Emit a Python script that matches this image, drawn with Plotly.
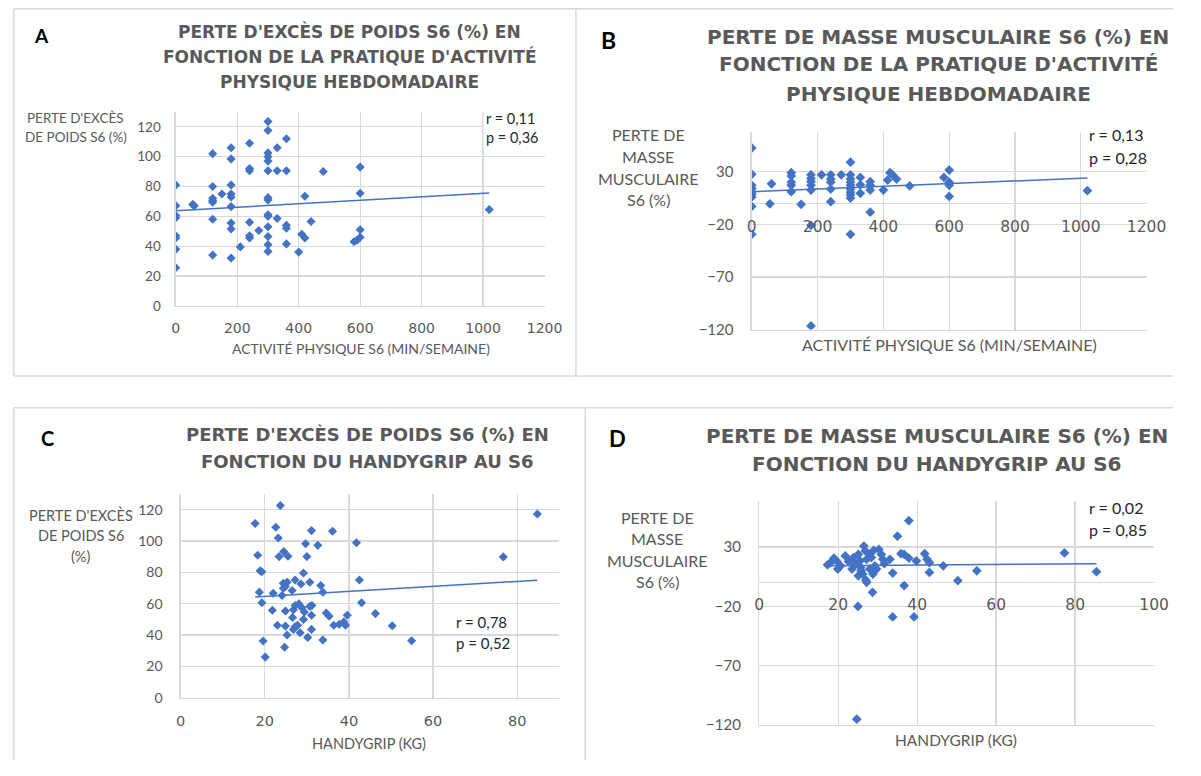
import plotly.graph_objects as go

W, H = 1201, 776          # browser window
PAD = 8                   # default body margin of the page
FW, FH = W - 2 * PAD, H - 2 * PAD   # figure size so that the page is exactly W x H

# ---------------- DATA ----------------
# Panel A : perte d'excès de poids vs activité physique
a_x = [0, 0, 0, 0, 0, 0, 0, 0,
       55, 60,
       120, 120, 120, 120, 120, 120, 120,
       150,
       180, 180, 180, 180, 180, 180, 180, 180, 180,
       210,
       240, 240, 240, 240, 240, 240,
       270,
       300, 300, 300, 300, 300, 300, 300, 300, 300, 300, 300, 300, 300, 300,
       330, 330, 330,
       360, 360, 360, 360, 360,
       400, 410, 420, 420, 440, 480, 580, 590,
       600, 600, 600, 600,
       1020]
a_y = [81, 67, 60.5, 59, 47, 45.5, 38, 25.5,
       68, 67,
       102, 80, 72, 70.5, 69.5, 58, 34,
       75,
       106, 98.5, 81, 75, 73, 66.5, 55.5, 51.5, 32,
       39.5,
       109, 92, 90.5, 56, 47, 45.5,
       50.5,
       123.5, 117.5, 102.5, 100, 97, 90.5, 72.5, 71, 61, 60, 53, 46.5, 41, 36.5,
       106, 90.5, 58.5,
       112, 90.5, 54, 52, 41.5,
       36, 48, 73.5, 45.5, 56.5, 90, 43, 44,
       93, 75.5, 51, 46,
       64.5]
a_trend_x = [0, 1020]
a_trend_y = [63.8, 75.6]

# Panel B : perte de masse musculaire vs activité physique
b_x = [0, 0, 0, 0, 0, 0, 0, 0, 0,
       55, 60,
       120, 120, 120, 120, 120,
       150,
       180, 180, 180, 180, 180, 180, 180,
       212,
       240, 240, 240, 240, 240,
       272,
       300, 300, 300, 300, 300, 300, 300, 300, 300, 300,
       330, 330, 330,
       360, 360, 360, 360,
       400, 413, 420, 428, 440, 480, 584,
       600, 600, 600, 600,
       1020]
b_y = [52.5, 27.5, 17, 14, 11, 8.5, 6, -3, -29.5,
       -0.5, 18.5,
       29, 26, 20, 17, 11,
       -1,
       27, 23.5, 20.5, 17, 12.5, -21, -116.5,
       27,
       27, 23, 20, 13.5, 1.5,
       27,
       39, 27, 23, 20, 17, 13.5, 10.5, 8, 5, -29.5,
       24.5, 17.5, 9.5,
       20.5, 17, 12.5, -8.5,
       12.5, 22, 29, 27, 23, 16.5, 24.5,
       31.5, 20, 17, 6.5,
       12]
b_trend_x = [0, 1020]
b_trend_y = [11, 24]

# Panel C : perte d'excès de poids vs handgrip
c_x = [23.7, 17.7, 22.6, 23.2, 31.1, 36.1, 29.7, 32.6, 41.8, 18.3,
       23.4, 24.5, 25.5, 30.0, 18.9, 19.3, 29.2, 27.2, 30.7, 28.6,
       24.4, 25.3, 24.9, 24.4, 26.5, 33.3, 33.8, 42.5, 18.7, 22.0,
       24.1, 19.3, 43.0, 21.8, 24.9, 27.2, 28.1, 28.8, 30.7, 31.2,
       26.8, 29.4, 26.6, 31.1, 34.6, 35.3, 39.6, 23.0, 24.9, 27.2,
       27.8, 29.2, 36.4, 37.7, 38.8, 39.2, 25.3, 26.8, 28.4, 31.1,
       30.2, 33.8, 19.6, 24.7, 20.1, 46.3, 50.3, 54.9, 76.7, 84.8]
c_y = [122.7, 111.2, 108.8, 102.0, 106.7, 106.3, 98.3, 97.3, 98.9, 91.0,
       90.1, 93.3, 90.3, 90.1, 81.0, 80.4, 79.6, 75.2, 73.7, 72.6,
       73.0, 73.7, 71.0, 69.9, 68.4, 71.6, 67.4, 75.2, 67.4, 66.7,
       65.3, 60.6, 60.6, 55.8, 55.4, 58.9, 60.0, 57.5, 58.3, 58.9,
       56.2, 54.7, 51.2, 52.6, 54.1, 52.0, 52.6, 46.3, 45.7, 45.3,
       46.3, 49.9, 46.3, 46.9, 48.4, 46.3, 40.0, 43.6, 41.5, 43.6,
       38.5, 36.8, 36.2, 32.2, 25.9, 53.7, 45.9, 36.4, 89.9, 117.3]
c_trend_x = [17.7, 84.8]
c_trend_y = [64.3, 75.0]

# Panel D : perte de masse musculaire vs handgrip
d_x = [37.9, 35.0, 35.9, 36.7, 37.9, 39.8, 41.9, 42.5, 43.1, 46.6,
       43.1, 33.8, 33.1, 36.7, 50.3, 55.1, 25.0, 33.8, 39.2, 24.7,
       27.2, 28.7,
       17.3, 18.1, 18.9, 19.6, 19.9, 20.6, 21.8, 22.6, 23.5, 23.9,
       24.3, 25.1, 25.5, 25.7, 26.2, 26.5, 26.9, 27.2, 25.8, 27.9,
       28.4, 29.0, 29.3, 29.7, 28.8, 30.3, 30.9, 31.3, 31.7, 28.0,
       27.0, 25.1,
       77.3, 85.4]
d_y = [52.2, 39.2, 24.4, 23.9, 20.6, 18.3, 24.4, 19.7, 16.9, 14.2,
       8.6, 8.1, 19.7, -2.5, 1.7, 10.0, -20.0, -28.9, -28.9, -115.0,
       0.3, -8.1,
       15.0, 16.9, 20.6, 18.3, 11.4, 14.2, 22.5, 17.8, 11.4, 21.1,
       15.6, 23.9, 18.3, 12.8, 7.2, 30.8, 26.7, 19.7, 10.0, 23.9,
       21.1, 27.2, 14.2, 11.4, 7.2, 28.0, 23.9, 19.7, 16.1, 11.4,
       2.2, 5.8,
       25.0, 9.2]
d_trend_x = [17.3, 85.4]
d_trend_y = [14.3, 15.9]

# ---------------- STYLE ----------------
BLUE = "#4472C4"
GRID = "#d9d9d9"
TICK = "#595959"
TITLE = "#595959"


def px(x):
    """window pixel -> paper x"""
    return min(max((x - PAD) / FW, 0.0), 1.0)


def py(y):
    """window pixel -> paper y"""
    return min(max(1 - (y - PAD) / FH, 0.0), 1.0)


panels = [
    dict(xs=a_x, ys=a_y, tx=a_trend_x, ty=a_trend_y,
         box=(174.3, 551.0, 113.0, 309.0), xr=[0, 1200], xdt=200,
         yr=[0, 130], y0=0, ydt=20, cross=False,
         xfont=14, yfont=13.5, xstand=9, ystand=11, msize=7),
    dict(xs=b_x, ys=b_y, tx=b_trend_x, ty=b_trend_y,
         box=(762.7, 1166.0, 133.0, 333.0), xr=[0, 1200], xdt=200,
         yr=[-120, 68], y0=-120, ydt=50, cross=True,
         xfont=15.5, yfont=15, xstand=12, ystand=14, msize=7.5),
    dict(xs=c_x, ys=c_y, tx=c_trend_x, ty=c_trend_y,
         box=(179.3, 566.0, 499.3, 705.0), xr=[0, 90], xdt=20,
         yr=[0, 130], y0=0, ydt=20, cross=False,
         xfont=14.5, yfont=14, xstand=10, ystand=14, msize=7),
    dict(xs=d_x, ys=d_y, tx=d_trend_x, ty=d_trend_y,
         box=(770.3, 1173.7, 506.0, 732.7), xr=[0, 100], xdt=20,
         yr=[-120, 69], y0=-120, ydt=50, cross=True,
         xfont=15.5, yfont=15, xstand=11, ystand=14, msize=7.5),
]

fig = go.Figure()
layout = {}
extra = 5

for i, p in enumerate(panels, start=1):
    sfx = "" if i == 1 else str(i)
    xa, ya = "x" + sfx, "y" + sfx
    x0, x1, yt, yb = p["box"]

    fig.add_trace(go.Scatter(
        x=p["xs"], y=p["ys"], mode="markers", xaxis=xa, yaxis=ya,
        marker=dict(symbol="diamond", size=p["msize"], color=BLUE,
                    line=dict(width=0)),
        hoverinfo="skip"))
    fig.add_trace(go.Scatter(
        x=p["tx"], y=p["ty"], mode="lines", xaxis=xa, yaxis=ya,
        line=dict(color=BLUE, width=1.5), hoverinfo="skip"))

    tickfont_x = dict(family="DejaVu Sans", size=p["xfont"], color=TICK)
    xaxis = dict(
        domain=[px(x0), px(x1)], range=p["xr"], tick0=0, dtick=p["xdt"],
        showgrid=True, gridcolor=GRID, gridwidth=1.3, zeroline=False,
        showline=True, linecolor=GRID, linewidth=1.3, ticks="",
        tickfont=tickfont_x, ticklabelstandoff=p["xstand"],
        anchor=ya, fixedrange=True)
    yaxis = dict(
        domain=[py(yb), py(yt)], range=p["yr"], tick0=p["y0"], dtick=p["ydt"],
        showgrid=True, gridcolor=GRID, gridwidth=1.3, zeroline=False,
        showline=True, linecolor=GRID, linewidth=1.3, ticks="",
        tickfont=dict(family="Lato", size=p["yfont"], color=TICK),
        ticklabelstandoff=p["ystand"], anchor=xa, fixedrange=True)

    if p["cross"]:
        # horizontal axis crosses at y = 0 : labels carried by an overlay axis
        xaxis.update(showticklabels=False)
        yaxis.update(zeroline=True, zerolinecolor=GRID, zerolinewidth=1.3)
        r0, r1 = p["yr"]
        zero_px = yb - (0 - r0) / (r1 - r0) * (yb - yt)
        oname = "xaxis" + str(extra)
        layout[oname] = dict(
            overlaying=xa, anchor="free", position=py(zero_px),
            domain=[px(x0), px(x1)], range=p["xr"], tick0=0, dtick=p["xdt"],
            showgrid=False, zeroline=False, showline=False, ticks="",
            tickfont=tickfont_x, ticklabelstandoff=p["xstand"], fixedrange=True)
        fig.add_trace(go.Scatter(x=[None], y=[None], mode="markers",
                                 xaxis="x" + str(extra), yaxis=ya,
                                 hoverinfo="skip"))
        extra += 1

    layout["xaxis" + sfx] = xaxis
    layout["yaxis" + sfx] = yaxis

annotations = []


def txt(text, x, y, size, family="Lato", color=TICK, bold=False,
        xanchor="center", **kw):
    t = "<b>" + text + "</b>" if bold else text
    annotations.append(dict(
        text=t, x=px(x), y=py(y), xref="paper", yref="paper",
        xanchor=xanchor, yanchor="middle", showarrow=False,
        font=dict(family=family, size=size, color=color), **kw))


# panel letters
txt("A", 37, 36, 19, family="Lato", color="#000000", bold=True)
txt("B", 616, 40, 23, family="Lato", color="#000000", bold=True)
txt("C", 43, 443, 20, family="Lato", color="#000000", bold=True)
txt("D", 626, 443, 22, family="Lato", color="#000000", bold=True)

# titles
for line, y in [("PERTE D'EXCÈS DE POIDS S6 (%) EN", 32),
                ("FONCTION DE LA PRATIQUE D'ACTIVITÉ", 57),
                ("PHYSIQUE HEBDOMADAIRE", 83)]:
    txt(line, 352, y, 17, family="DejaVu Sans", color=TITLE, bold=True)
for line, y in [("PERTE DE MASSE MUSCULAIRE S6 (%) EN", 37),
                ("FONCTION DE LA PRATIQUE D'ACTIVITÉ", 65),
                ("PHYSIQUE HEBDOMADAIRE", 95)]:
    txt(line, 953, y, 20, family="DejaVu Sans", color=TITLE, bold=True)
for line, y in [("PERTE D'EXCÈS DE POIDS S6 (%) EN", 439),
                ("FONCTION DU HANDYGRIP AU S6", 466)]:
    txt(line, 370, y, 18, family="DejaVu Sans", color=TITLE, bold=True)
for line, y in [("PERTE DE MASSE MUSCULAIRE S6 (%) EN", 441),
                ("FONCTION DU HANDYGRIP AU S6", 469)]:
    txt(line, 952, y, 20, family="DejaVu Sans", color=TITLE, bold=True)

# y-axis titles
for line, y in [("PERTE D'EXCÈS", 119), ("DE POIDS S6 (%)", 138)]:
    txt(line, 72, y, 13.5)
for line, y in [("PERTE DE", 136), ("MASSE", 158), ("MUSCULAIRE", 180), ("S6 (%)", 202)]:
    txt(line, 657, y, 16)
for line, y in [("PERTE D'EXCÈS", 520), ("DE POIDS S6", 541.5), ("(%)", 562)]:
    txt(line, 77, y, 14.5)
for line, y in [("PERTE DE", 523), ("MASSE", 544.5), ("MUSCULAIRE", 566), ("S6 (%)", 587.5)]:
    txt(line, 666, y, 16)

# x-axis titles
txt("ACTIVITÉ PHYSIQUE S6 (MIN/SEMAINE)", 363, 352, 14)
txt("ACTIVITÉ PHYSIQUE S6 (MIN/SEMAINE)", 965, 348, 16)
txt("HANDYGRIP (KG)", 372, 751, 14.5)
txt("HANDYGRIP (KG)", 971, 748, 15.5)

# statistics boxes
STAT = "#262626"
annotations.append(dict(
    text="r = 0,11<br>p = 0,36", x=px(488), y=py(129), xref="paper", yref="paper",
    xanchor="left", yanchor="middle", align="left", showarrow=False,
    bgcolor="white", width=58, borderpad=2,
    font=dict(family="Lato", size=14.5, color=STAT)))
for (r, pv, x, y1, y2, sz) in [("r = 0,13", "p = 0,28", 1105, 136, 159, 16),
                               ("r = 0,78", "p = 0,52", 459, 629, 650, 15),
                               ("r = 0,02", "p = 0,85", 1105, 513, 535, 16)]:
    txt(r, x, y1, sz, color=STAT, xanchor="left")
    txt(pv, x, y2, sz, color=STAT, xanchor="left")

# panel borders (in window pixels, clamped to the figure)
shapes = []
LEFT, TOP = PAD + 0.8, PAD + 0.8
border_segments = [
    # panel A
    (LEFT, TOP, 583, TOP), (LEFT, 380, 583, 380), (LEFT, TOP, LEFT, 380), (583, TOP, 583, 380),
    # panel B (right edge falls outside the picture)
    (583, TOP, W, TOP), (583, 380, W, 380),
    # panel C (bottom edge falls outside the picture)
    (LEFT, 412, 592.5, 412), (LEFT, 412, LEFT, H), (592.5, 412, 592.5, H),
    # panel D
    (592.5, 412, W, 412),
]
for (x0, y0, x1, y1) in border_segments:
    shapes.append(dict(type="line", xref="paper", yref="paper",
                       x0=px(x0), x1=px(x1), y0=py(y0), y1=py(y1),
                       line=dict(color=GRID, width=1.5), layer="below"))

fig.update_layout(
    width=FW, height=FH, margin=dict(l=0, r=0, t=0, b=0, pad=0),
    paper_bgcolor="white", plot_bgcolor="white", showlegend=False,
    annotations=annotations, shapes=shapes, hovermode=False,
    **layout)

fig.write_html("out.html", config={"displayModeBar": False, "staticPlot": True})
